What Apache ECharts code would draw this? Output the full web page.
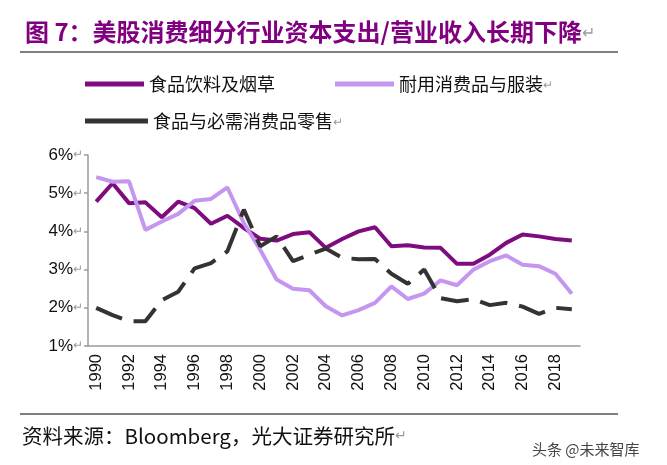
<!DOCTYPE html>
<html>
<head>
<meta charset="utf-8">
<script src="https://cdn.jsdelivr.net/npm/echarts@6/dist/echarts.min.js"></script>
<style>
  html, body { margin: 0; padding: 0; background: #fff; }
  #chart { width: 667px; height: 465px; }
</style>
</head>
<body>
<div id="chart"></div>
<script>
const years = [];
for (let y = 1990; y <= 2019; y++) years.push(String(y));

// 资本支出/营业收入 (%)
const foodBevTobacco = [4.78, 5.26, 4.74, 4.76, 4.37, 4.78, 4.61, 4.20, 4.41, 4.09,
  3.81, 3.76, 3.93, 3.98, 3.57, 3.80, 4.00, 4.11, 3.61, 3.64,
  3.58, 3.57, 3.15, 3.15, 3.39, 3.70, 3.92, 3.87, 3.80, 3.76];
const durablesApparel = [5.42, 5.30, 5.31, 4.04, 4.26, 4.46, 4.80, 4.85, 5.15, 4.22,
  3.52, 2.74, 2.50, 2.46, 2.04, 1.80, 1.94, 2.13, 2.56, 2.23,
  2.37, 2.72, 2.59, 3.00, 3.22, 3.37, 3.13, 3.09, 2.89, 2.37];
const staplesRetail = [2.00, 1.81, 1.65, 1.65, 2.20, 2.42, 3.03, 3.17, 3.48, 4.57,
  3.61, 3.87, 3.22, 3.39, 3.55, 3.31, 3.27, 3.28, 2.89, 2.63,
  3.00, 2.25, 2.17, 2.23, 2.07, 2.13, 2.03, 1.84, 2.00, 1.96];

const seriesNames = ['食品饮料及烟草', '耐用消费品与服装', '食品与必需消费品零售'];
const colors = ['#7e0c7e', '#c596f0', '#333333'];
const yTicks = [1, 2, 3, 4, 5, 6];

const chart = echarts.init(document.getElementById('chart'), null, { renderer: 'canvas' });
const font = 'Arial, "Liberation Sans", "Noto Sans CJK SC", sans-serif';
const cjk = '"Noto Sans CJK SC", Arial, sans-serif';
const rich = { r: { color: '#9a9a9a', fontSize: 12 } };

const lineSeries = [
  { name: seriesNames[0], data: foodBevTobacco, color: colors[0] },
  { name: seriesNames[1], data: durablesApparel, color: colors[1] },
  { name: seriesNames[2], data: staplesRetail, color: colors[2], dash: [28, 12] },
  // empty entry so the legend sample for the dashed series is drawn solid, like the original
  { name: seriesNames[2], data: [], color: colors[2] }
];

chart.setOption({
  backgroundColor: '#fff',
  animation: false,
  textStyle: { fontFamily: font },
  title: {
    text: '图 7：美股消费细分行业资本支出/营业收入长期下降{r|↵}',
    left: 20, top: 15,
    textStyle: {
      color: '#800080', fontSize: 24, fontWeight: 'bold', fontFamily: cjk,
      rich: { r: { color: '#9a9a9a', fontSize: 16, fontWeight: 'normal' } }
    }
  },
  legend: [
    { data: [seriesNames[0]], left: 80, top: 70, itemWidth: 59 },
    { data: [seriesNames[1]], left: 330, top: 70, itemWidth: 59 },
    { data: [seriesNames[2]], left: 80, top: 107, itemWidth: 63 }
  ].map(l => Object.assign({
    icon: 'rect', itemHeight: 5, selectedMode: false,
    lineStyle: { width: 5, type: 'solid' },
    formatter: n => n + (n === seriesNames[0] ? '' : '{r|↵}'),
    textStyle: { fontSize: 18, color: '#111', fontFamily: cjk, rich }
  }, l)),
  grid: { left: 88, right: 87, top: 155, bottom: 119, containLabel: false },
  xAxis: {
    type: 'category',
    data: years,
    boundaryGap: true,
    axisLine: { lineStyle: { color: '#9a9a9a', width: 1.5 } },
    axisTick: { interval: 1, length: 5, lineStyle: { color: '#9a9a9a', width: 1.5 } },
    axisLabel: { interval: 1, rotate: 90, fontSize: 16.5, color: '#111', margin: 8, fontFamily: font }
  },
  yAxis: {
    type: 'value',
    min: yTicks[0], max: yTicks[yTicks.length - 1], interval: 1,
    axisLine: { show: true, lineStyle: { color: '#9a9a9a', width: 1.5 } },
    axisTick: { show: true, length: 4, lineStyle: { color: '#9a9a9a', width: 1.5 } },
    splitLine: { show: false },
    axisLabel: {
      fontSize: 17, color: '#111', margin: 5, fontFamily: font,
      formatter: v => v + '%{r|↵}', rich
    }
  },
  series: lineSeries.map(s => ({
    type: 'line', symbol: 'none', name: s.name, data: s.data,
    lineStyle: { width: 4, color: s.color, type: s.dash || 'solid' },
    itemStyle: { color: s.color }
  })),
  graphic: [
    { type: 'line', shape: { x1: 20, y1: 52, x2: 618, y2: 52 }, style: { stroke: '#000', lineWidth: 1 } },
    { type: 'line', shape: { x1: 20, y1: 414, x2: 618, y2: 414 }, style: { stroke: '#000', lineWidth: 1 } },
    { type: 'text', left: 22, top: 426,
      style: { text: '资料来源：Bloomberg，光大证券研究所{r|↵}', fill: '#111', fontSize: 20.5,
        fontFamily: cjk, rich: { r: { fill: '#9a9a9a', fontSize: 14 } } } },
    { type: 'text', left: 532, top: 442,
      style: { text: '头条 @未来智库', fill: '#444', fontSize: 15, fontFamily: cjk } }
  ]
});
</script>
</body>
</html>
